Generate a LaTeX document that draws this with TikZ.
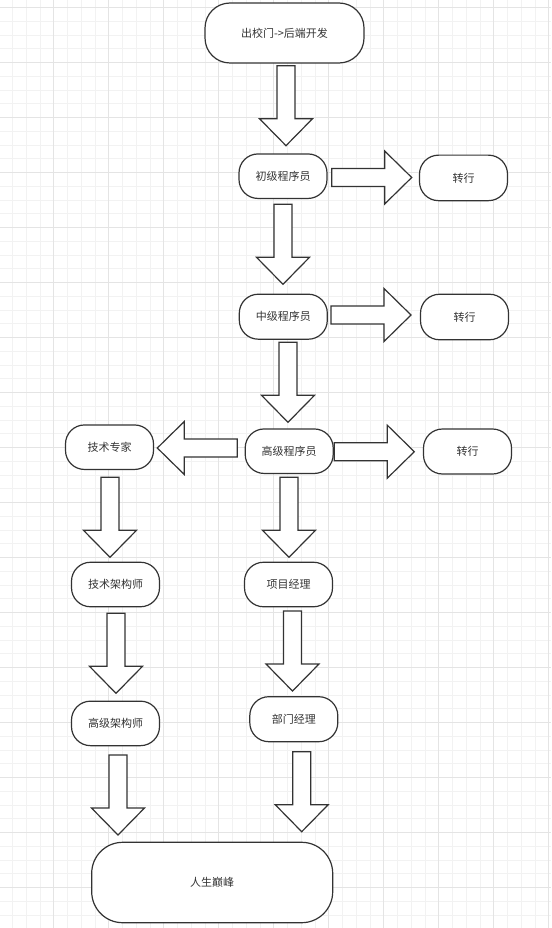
\documentclass[tikz,border=0pt]{standalone}
\usepackage{fontspec}
\newfontfamily\cjk{Noto Sans CJK SC}
\definecolor{lc}{HTML}{333333}
\definecolor{tc}{HTML}{333333}
\definecolor{gminor}{HTML}{F2F2F2}
\definecolor{gmajor}{HTML}{E4E4E4}
\tikzset{
  box/.style={draw=lc, line width=1.2pt, fill=white, rounded corners=19pt,
    minimum width=88pt, minimum height=44.5pt, inner sep=0pt,
    font=\cjk\fontsize{11}{13}\selectfont, text=tc},
  barrow/.pic={\draw[draw=lc, line width=1.2pt, fill=white, line join=miter]
    (0,-9) -- (53,-9) -- (53,-26.5) -- (80,0) -- (53,26.5) -- (53,9) -- (0,9) -- cycle;}
}
\begin{document}
\begin{tikzpicture}[x=1pt,y=-1pt]
\useasboundingbox (0,0) rectangle (551,928);
\fill[white] (0,0) rectangle (551,928);
% grid
\foreach \i in {0,...,39} {\draw[gminor, line width=0.8pt] ({12.55+13.75*\i},0) -- ({12.55+13.75*\i},928);}
\foreach \i in {0,...,66} {\draw[gminor, line width=0.8pt] (0,{7.5+13.75*\i}) -- (551,{7.5+13.75*\i});}
\foreach \i in {0,...,9} {\draw[gmajor, line width=0.9pt] ({53.8+55*\i},0) -- ({53.8+55*\i},928);}
\foreach \i in {0,...,16} {\draw[gmajor, line width=0.9pt] (0,{7.5+55*\i}) -- (551,{7.5+55*\i});}

% nodes
\node[box, minimum width=159pt, minimum height=60pt, rounded corners=25pt] (n0) at (284.5,33) {出校门->后端开发};
\node[box] (n1) at (283,176.2) {初级程序员};
\node[box, minimum height=45.5pt] (z1) at (463.5,177.9) {转行};
\node[box, minimum height=45pt] (n2) at (283.3,316.7) {中级程序员};
\node[box, minimum height=45.5pt] (z2) at (464.5,317) {转行};
\node[box] (n3) at (289.2,451.2) {高级程序员};
\node[box, minimum height=45pt] (z3) at (467.5,451.5) {转行};
\node[box] (e1) at (109.5,447.2) {技术专家};
\node[box] (e2) at (115.5,584.5) {技术架构师};
\node[box] (e3) at (115.5,723.4) {高级架构师};
\node[box] (m1) at (288.5,584.5) {项目经理};
\node[box, minimum height=45pt] (m2) at (293.8,719.2) {部门经理};
\node[box, minimum width=241pt, minimum height=80.4pt, rounded corners=31pt] (top) at (212.2,882.5) {人生巅峰};

% block arrows
\pic[rotate=-90] (a1) at (286,65.7) {barrow};
\pic[rotate=-90] (a2) at (283,204.3) {barrow};
\pic[rotate=-90] (a3) at (288,342.3) {barrow};
\pic[rotate=-90] (a4) at (289,477.3) {barrow};
\pic[rotate=-90] (a5) at (110,477.3) {barrow};
\pic[rotate=-90] (a6) at (116,613.3) {barrow};
\pic[rotate=-90] (a7) at (292.5,611) {barrow};
\pic[rotate=-90] (a8) at (118,755) {barrow};
\pic[rotate=-90] (a9) at (301.7,751.7) {barrow};
\pic (r1) at (331.7,177.5) {barrow};
\pic (r2) at (331,315) {barrow};
\pic (r3) at (334.3,451.7) {barrow};
\pic[rotate=180] (l1) at (237.3,448) {barrow};
\end{tikzpicture}
\end{document}
